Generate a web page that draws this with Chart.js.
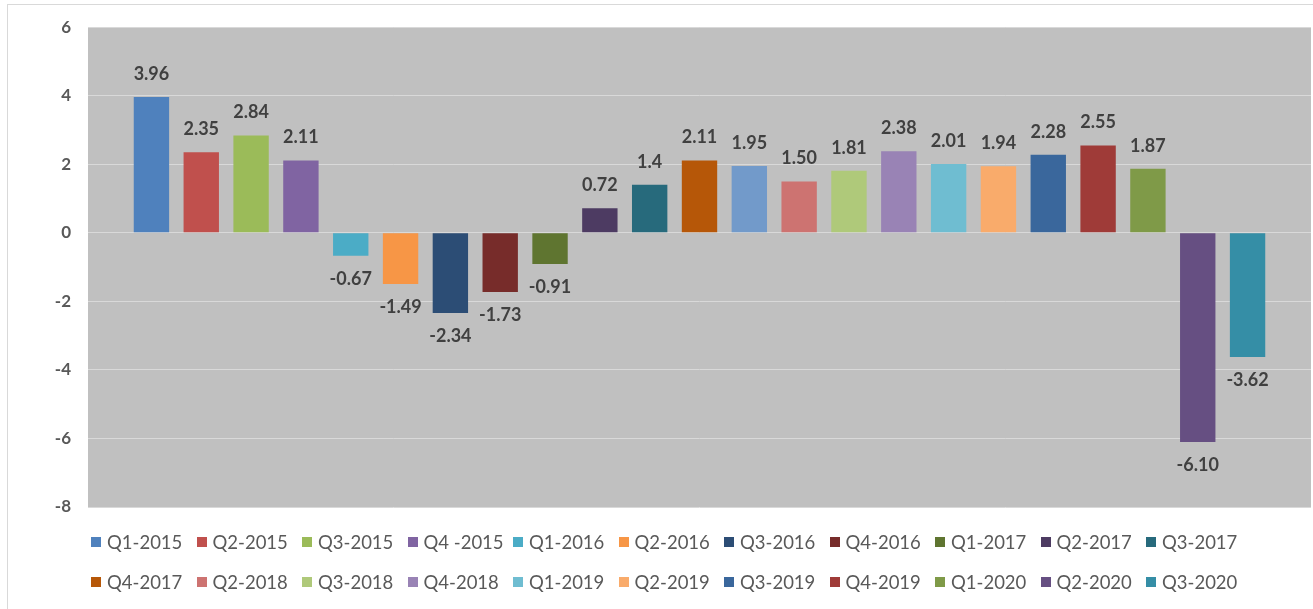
<!DOCTYPE html>
<html>
<head>
<meta charset="utf-8">
<script src="https://cdn.jsdelivr.net/npm/chart.js@4.4.1/dist/chart.umd.min.js"></script>
<style>
  body { margin: 0; background: #fff; }
  #wrap { position: relative; width: 1313px; height: 609px; overflow: hidden; }
  #frame { position: absolute; left: 7px; top: 4px; width: 1400px; height: 700px; border: 1px solid #d9d9d9; box-sizing: border-box; }
  #myChart { position: absolute; left: 0; top: 0; }
  #legend { position: absolute; left: 91px; top: 522px; width: 1220px; font-family: Lato, sans-serif; font-size: 18.5px; color: #595959; }
  .row { height: 40px; display: flex; align-items: center; }
  .item { width: 105.5px; flex: none; display: flex; align-items: center; white-space: nowrap; }
  .box { width: 10px; height: 10px; margin-right: 6px; flex: none; }
</style>
</head>
<body>
<div id="wrap">
  <div id="frame"></div>
  <canvas id="myChart" width="1313" height="609"></canvas>
  <div id="legend"></div>
</div>
<script>
// data
const quarters = ['Q1-2015', 'Q2-2015', 'Q3-2015', 'Q4 -2015', 'Q1-2016', 'Q2-2016', 'Q3-2016', 'Q4-2016',
  'Q1-2017', 'Q2-2017', 'Q3-2017', 'Q4-2017', 'Q1-2018', 'Q2-2018', 'Q3-2018', 'Q4-2018',
  'Q1-2019', 'Q2-2019', 'Q3-2019', 'Q4-2019', 'Q1-2020', 'Q2-2020', 'Q3-2020'];
const growth = [3.96, 2.35, 2.84, 2.11, -0.67, -1.49, -2.34, -1.73, -0.91, 0.72, 1.4, 2.11,
  1.95, 1.50, 1.81, 2.38, 2.01, 1.94, 2.28, 2.55, 1.87, -6.10, -3.62];
const valueText = ['3.96', '2.35', '2.84', '2.11', '-0.67', '-1.49', '-2.34', '-1.73', '-0.91', '0.72', '1.4', '2.11',
  '1.95', '1.50', '1.81', '2.38', '2.01', '1.94', '2.28', '2.55', '1.87', '-6.10', '-3.62'];
const barColors = ['#4f81bd', '#c0504d', '#9bbb59', '#8064a2', '#4bacc6', '#f79646', '#2c4d75', '#772c2a',
  '#5f7530', '#4d3b62', '#276a7c', '#b65708', '#729aca', '#cd7371', '#afc97a', '#9983b5',
  '#6fbdd1', '#f9ab6b', '#3a679c', '#9f3b38', '#7f9a48', '#664f82', '#358ea6'];
const notInLegend = ['Q1-2018'];
const Y_MIN = -8, Y_MAX = 6, Y_STEP = 2;
const PER_ROW = 11;

// gray plot area
const plotBg = {
  id: 'plotBg',
  beforeDraw(chart) {
    const {ctx, chartArea: a} = chart;
    ctx.save();
    ctx.fillStyle = '#c0c0c0';
    ctx.fillRect(a.left, a.top, a.right - a.left, a.bottom - a.top);
    ctx.restore();
  }
};

// value labels above / below each bar
const barLabels = {
  id: 'barLabels',
  afterDatasetsDraw(chart) {
    const ctx = chart.ctx;
    ctx.save();
    ctx.font = 'bold 18px Lato';
    ctx.fillStyle = '#404040';
    ctx.textAlign = 'center';
    ctx.textBaseline = 'middle';
    chart.data.datasets.forEach((ds, i) => {
      const bar = chart.getDatasetMeta(i).data[0];
      const v = ds.data[0];
      ctx.fillText(valueText[i], bar.x, v >= 0 ? bar.y - 23 : bar.y + 23);
    });
    ctx.restore();
  }
};

const data = {
  labels: [''],
  datasets: quarters.map((q, i) => ({
    label: q,
    data: [growth[i]],
    backgroundColor: barColors[i],
    borderWidth: 0
  }))
};

const config = {
  type: 'bar',
  data,
  options: {
    responsive: false,
    animation: false,
    categoryPercentage: 0.937,
    barPercentage: 0.71,
    layout: { padding: { left: 0, right: 2, top: 25, bottom: 102 } },
    plugins: {
      legend: { display: false },
      tooltip: { enabled: false }
    },
    scales: {
      x: { display: false },
      y: {
        min: Y_MIN,
        max: Y_MAX,
        ticks: {
          stepSize: Y_STEP,
          padding: 17,
          color: '#595959',
          font: { family: 'Lato', size: 17, weight: 'bold' }
        },
        grid: { color: '#d9d9d9', lineWidth: 1, drawTicks: false },
        border: { display: false },
        afterFit(scale) { scale.width = 88; }
      }
    }
  },
  plugins: [plotBg, barLabels]
};

const myChart = new Chart(document.getElementById('myChart'), config);

// legend in two rows, built from the chart's datasets
const legendEl = document.getElementById('legend');
const items = myChart.data.datasets.filter(ds => !notInLegend.includes(ds.label));
for (let r = 0; r < items.length; r += PER_ROW) {
  const row = document.createElement('div');
  row.className = 'row';
  items.slice(r, r + PER_ROW).forEach(ds => {
    const it = document.createElement('div');
    it.className = 'item';
    const box = document.createElement('span');
    box.className = 'box';
    box.style.background = ds.backgroundColor;
    it.appendChild(box);
    it.appendChild(document.createTextNode(ds.label));
    row.appendChild(it);
  });
  legendEl.appendChild(row);
}
</script>
</body>
</html>
